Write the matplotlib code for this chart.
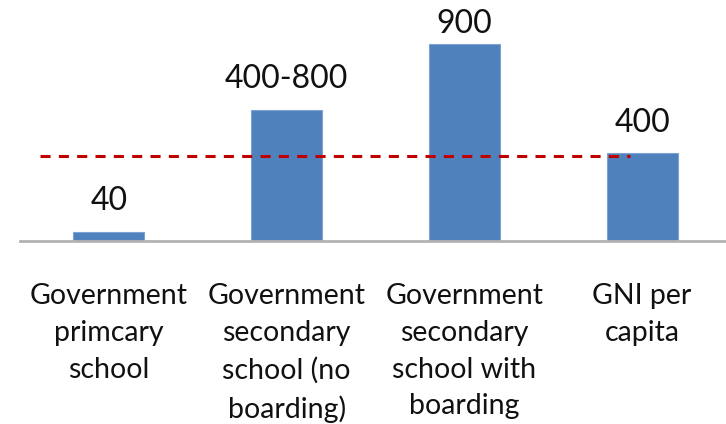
import matplotlib
matplotlib.use("Agg")
import matplotlib.pyplot as plt

# Annual cost of schooling compared with GNI per capita
categories = [
    "Government\nprimcary\nschool",
    "Government\nsecondary\nschool (no\nboarding)",
    "Government\nsecondary\nschool with\nboarding",
    "GNI per\ncapita",
]
values = [40, 600, 900, 400]
value_labels = ["40", "400-800", "900", "400"]
gni_line = 390

plt.rcParams["font.family"] = ["Lato", "DejaVu Sans"]

W, H = 726, 424
fig = plt.figure(figsize=(W / 100, H / 100), dpi=100)
ax = fig.add_axes([20 / W, (H - 241) / H, 711 / W, 241 / H])

x = list(range(len(categories)))
ax.bar(x, values, width=0.4, color="#4F81BD", edgecolor="#7FA3D0",
       linewidth=0.8, zorder=2)

# value labels sit above each bar, kept inside the top of the figure
for xi, v, lab in zip(x, values, value_labels):
    ax.text(xi, min(v + 100, 950), lab, ha="center", va="baseline",
            fontsize=23, color="#111111", clip_on=False)

ax.plot([-0.39, 2.93], [gni_line, gni_line], color="#C00000", linewidth=2.2,
        linestyle=(0, (3.3, 2.7)), zorder=3, clip_on=False)

ax.set_xlim(-0.5, 3.5)
ax.set_ylim(0, 1101)
ax.set_xticks(x)
ax.set_xticklabels(categories, fontsize=20.5, linespacing=1.52, color="#111111")
ax.tick_params(axis="x", length=0, pad=30)
ax.set_yticks([])
for s in ["top", "left", "right"]:
    ax.spines[s].set_visible(False)
ax.spines["bottom"].set_color("#B3B3B3")
ax.spines["bottom"].set_linewidth(2)

fig.savefig("out.png", dpi=100)
